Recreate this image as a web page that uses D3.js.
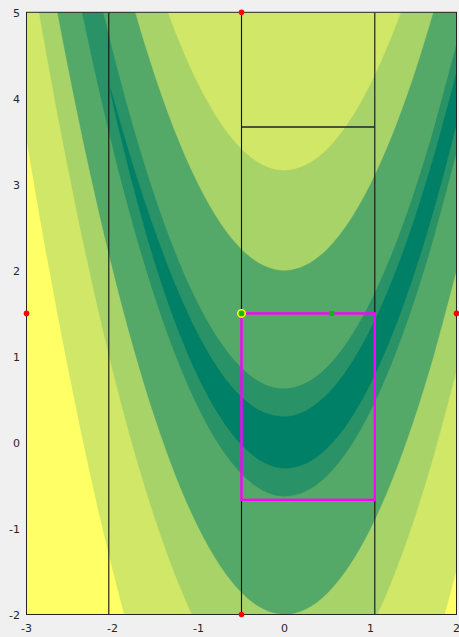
<!DOCTYPE html>
<html>
<head>
<meta charset="utf-8">
<script src="https://cdn.jsdelivr.net/npm/d3@7"></script>
<style>
  html, body { margin: 0; padding: 0; background: #f0f0f0; }
  svg { display: block; }
  text { font-family: "DejaVu Sans", sans-serif; font-size: 11px; fill: #262626; }
</style>
</head>
<body>
<svg id="chart" width="459" height="637"></svg>
<script>
// ---------- data ----------
const xDomain = [-3, 2];
const yDomain = [-2, 5];
const xTicks = [-3, -2, -1, 0, 1, 2];
const yTicks = [-2, -1, 0, 1, 2, 3, 4, 5];

// contour levels (outermost to innermost) and their fill colours
const levels = [3000, 1000, 400, 40, 10];
const levelFills = ["#d0e767", "#a8d368", "#55a968", "#2a9267", "#008066"];
const backgroundFill = "#ffff66";

// sample columns along x, valley centre line and band half-heights per level
const gridX = [-3, -2.75, -2.5, -2.25, -2, -1.75, -1.5, -1.25, -1, -0.75, -0.5, -0.25, 0, 0.25, 0.5, 0.75, 1, 1.25, 1.5, 1.75, 2];
const valleyY = [9, 7.5625, 6.25, 5.0625, 4, 3.0625, 2.25, 1.5625, 1, 0.5625, 0.25, 0.0625, 0, 0.0625, 0.25, 0.5625, 1, 1.5625, 2.25, 3.0625, 4];
const halfWidth3000 = [5.463, 5.464, 5.466, 5.468, 5.469, 5.470, 5.472, 5.473, 5.474, 5.474, 5.475, 5.476, 5.476, 5.477, 5.477, 5.477, 5.477, 5.477, 5.477, 5.477, 5.476];
const halfWidth1000 = [3.137, 3.140, 3.143, 3.146, 3.148, 3.150, 3.152, 3.154, 3.156, 3.157, 3.159, 3.160, 3.161, 3.162, 3.162, 3.162, 3.162, 3.162, 3.162, 3.162, 3.161];
const halfWidth400 = [1.960, 1.965, 1.969, 1.973, 1.977, 1.981, 1.984, 1.987, 1.990, 1.992, 1.994, 1.996, 1.997, 1.999, 1.999, 2.000, 2.000, 2.000, 1.999, 1.999, 1.997];
const halfWidth40 = [0.490, 0.509, 0.527, 0.543, 0.557, 0.570, 0.581, 0.591, 0.600, 0.608, 0.614, 0.620, 0.625, 0.628, 0.630, 0.632, 0.632, 0.632, 0.630, 0.628, 0.625];
// innermost band: a thin streak that fades out on the upper left
const gridX10 = [-2.03, -2, -1.9, -1.75, -1.5, -1.25, -1, -0.75, -0.5, -0.25, 0, 0.25, 0.5, 0.75, 1, 1.25, 1.5, 1.75, 2];
const valleyY10 = [4.121, 4, 3.61, 3.0625, 2.25, 1.5625, 1, 0.5625, 0.25, 0.0625, 0, 0.0625, 0.25, 0.5625, 1, 1.5625, 2.25, 3.0625, 4];
const halfWidth10 = [0, 0.03, 0.07, 0.12, 0.185, 0.22, 0.245, 0.263, 0.278, 0.290, 0.300, 0.307, 0.312, 0.315, 0.316, 0.315, 0.312, 0.307, 0.300];

// overlay geometry
const verticalLinesX = [-2.043, -0.5, 1.05];
const horizontalSegment = { y: 3.667, x0: -0.5, x1: 1.05 };
const boxX = [-0.5, 1.05];
const boxY = [-0.667, 1.5];
const redPointsX = [-0.5, -0.5, -3, 2];
const redPointsY = [5, -2, 1.5, 1.5];
const centrePoint = [-0.5, 1.5];
const greenPoint = [0.55, 1.5];

// ---------- layout ----------
const svg = d3.select("#chart");
const W = 459, H = 637;
const plot = { left: 26.5, right: 456.5, top: 12.3, bottom: 614.5 };

svg.append("rect").attr("width", W).attr("height", H).attr("fill", "#f0f0f0");

const x = d3.scaleLinear().domain(xDomain).range([plot.left, plot.right]);
const y = d3.scaleLinear().domain(yDomain).range([plot.bottom, plot.top]);

svg.append("defs").append("clipPath").attr("id", "clip")
  .append("rect")
  .attr("x", plot.left).attr("y", plot.top)
  .attr("width", plot.right - plot.left).attr("height", plot.bottom - plot.top);

const g = svg.append("g").attr("clip-path", "url(#clip)");

g.append("rect")
  .attr("x", plot.left).attr("y", plot.top)
  .attr("width", plot.right - plot.left).attr("height", plot.bottom - plot.top)
  .attr("fill", backgroundFill);

function bandRows(xs, centre, hw) {
  return xs.map((xv, i) => ({ x: xv, lo: centre[i] - hw[i], hi: centre[i] + hw[i] }));
}
const bands = [
  { level: levels[0], rows: bandRows(gridX, valleyY, halfWidth3000), curve: d3.curveCatmullRom.alpha(0) },
  { level: levels[1], rows: bandRows(gridX, valleyY, halfWidth1000), curve: d3.curveCatmullRom.alpha(0) },
  { level: levels[2], rows: bandRows(gridX, valleyY, halfWidth400), curve: d3.curveCatmullRom.alpha(0) },
  { level: levels[3], rows: bandRows(gridX, valleyY, halfWidth40), curve: d3.curveCatmullRom.alpha(0) },
  { level: levels[4], rows: bandRows(gridX10, valleyY10, halfWidth10), curve: d3.curveMonotoneX }
];

bands.forEach((b, i) => {
  const area = d3.area()
    .x(d => x(d.x))
    .y0(d => y(d.lo))
    .y1(d => y(d.hi))
    .curve(b.curve);
  g.append("path")
    .datum(b.rows)
    .attr("d", area)
    .attr("fill", levelFills[i])
    .attr("stroke", levelFills[i])
    .attr("stroke-width", 0.3);
});

// black partition lines
verticalLinesX.forEach(v => {
  g.append("line")
    .attr("x1", x(v)).attr("x2", x(v))
    .attr("y1", y(yDomain[0])).attr("y2", y(yDomain[1]))
    .attr("stroke", "#111").attr("stroke-width", 1.1);
});
g.append("line")
  .attr("x1", x(horizontalSegment.x0)).attr("x2", x(horizontalSegment.x1))
  .attr("y1", y(horizontalSegment.y)).attr("y2", y(horizontalSegment.y))
  .attr("stroke", "#222").attr("stroke-width", 1.3);

// magenta box
svg.append("rect")
  .attr("x", x(boxX[0])).attr("y", y(boxY[1]))
  .attr("width", x(boxX[1]) - x(boxX[0]))
  .attr("height", y(boxY[0]) - y(boxY[1]))
  .attr("fill", "none").attr("stroke", "#ff00ff").attr("stroke-width", 2.4);

// axes box
svg.append("rect")
  .attr("x", plot.left).attr("y", plot.top)
  .attr("width", plot.right - plot.left).attr("height", plot.bottom - plot.top)
  .attr("fill", "none").attr("stroke", "#262626").attr("stroke-width", 1);

// tick labels
svg.append("g").selectAll("text").data(xTicks).join("text")
  .attr("x", d => x(d)).attr("y", 632)
  .attr("text-anchor", "middle")
  .text(d => d);
svg.append("g").selectAll("text").data(yTicks).join("text")
  .attr("x", 20).attr("y", d => y(d) + 4.5)
  .attr("text-anchor", "end")
  .text(d => d);

// markers
svg.append("g").selectAll("circle").data(redPointsX).join("circle")
  .attr("cx", d => x(d)).attr("cy", (d, i) => y(redPointsY[i]))
  .attr("r", 2.8).attr("fill", "#ff0000");

svg.append("circle")
  .attr("cx", x(centrePoint[0])).attr("cy", y(centrePoint[1]))
  .attr("r", 3.7).attr("fill", "#00c000")
  .attr("stroke", "#ffff00").attr("stroke-width", 1.6);

svg.append("rect")
  .attr("x", x(greenPoint[0]) - 2.5).attr("y", y(greenPoint[1]) - 2.5)
  .attr("width", 5).attr("height", 5)
  .attr("fill", "#00c000");
</script>
</body>
</html>
